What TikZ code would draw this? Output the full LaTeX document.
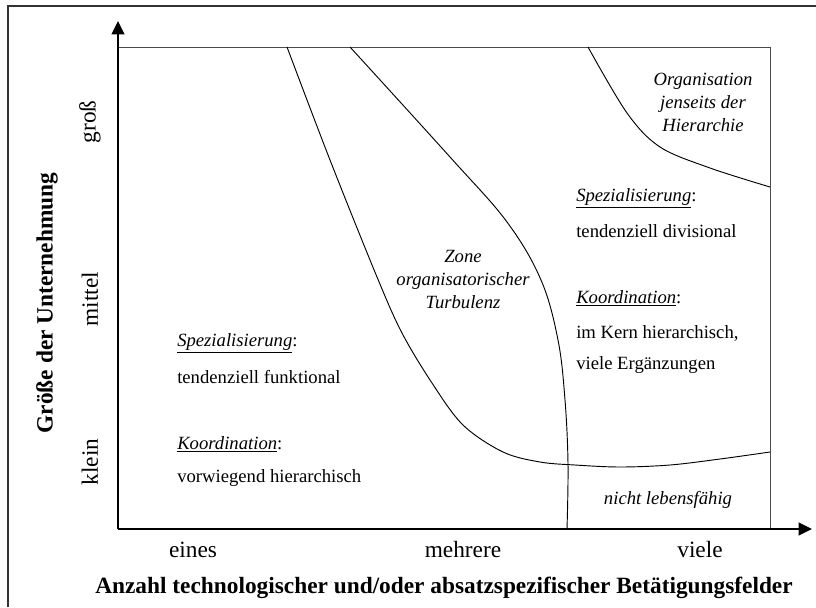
\documentclass[tikz,border=0pt]{standalone}
\usepackage{fontspec}
\setmainfont{Liberation Serif}
\usetikzlibrary{arrows.meta}
\begin{document}
\begin{tikzpicture}[x=0.75pt,y=-0.75pt,
  body/.style={inner sep=0pt,font=\fontsize{14}{17.25}\selectfont},
  zone/.style={body,align=center,font=\fontsize{14}{17.25}\selectfont\itshape},
  tick/.style={inner sep=0pt,font=\fontsize{17.5}{21}\selectfont},
  axtitle/.style={inner sep=0pt,font=\fontsize{17.5}{21}\selectfont\bfseries},
  axis/.style={line width=1.6pt,-{Triangle[length=10pt,width=9.5pt]}},
  frame/.style={line width=0.6pt,black!70},
  border/.style={line width=1pt,black!80},
  curve/.style={line width=0.7pt,black}]
\useasboundingbox (0,0) rectangle (816,607);

% outer frame
\draw[border] (8,607) -- (8,6) -- (816,6);

% corners of the plot area
\coordinate (O) at (118,529);
\coordinate (TL) at (118,47);
\coordinate (TR) at (770,47);
\coordinate (BR) at (770,529);
\coordinate (YT) at (118,21);
\coordinate (XT) at (812,529);

% plot area outline
\draw[frame] (TL) -- (TR) -- (BR);

% region boundaries
\draw[curve] plot[smooth,tension=0.55] coordinates {(287,47) (330,160) (377,277) (402,333) (432,383) (463,425) (503,452) (540,462) (575,465) (620,467) (670,465) (720,459) (770,452)};
\draw[curve] plot[smooth,tension=0.6] coordinates {(350,47) (450,157) (507,222) (541,280) (558,340) (565,400) (568,464) (567,529)};
\draw[curve] plot[smooth,tension=0.55] coordinates {(588,47) (627,113) (660,147) (710,168) (770,187)};

% axes
\draw[axis] (O) -- (YT);
\draw[axis] (O) -- (XT);

% zone labels
\node[zone] (beyond) at (703,102) {Organisation\\jenseits der\\Hierarchie};
\node[zone] (turb) at (463,279) {Zone\\organisatorischer\\Turbulenz};
\node[zone] (nonviable) at (668,500) {nicht lebensfähig};

% left column
\node[body,anchor=west] (spL) at (177,343) {\underline{\textit{Spezialisierung}}:};
\node[body,anchor=west] (spLt) at (177,377) {tendenziell funktional};
\node[body,anchor=west] (koL) at (177,444) {\underline{\textit{Koordination}}:};
\node[body,anchor=west] (koLt) at (177,478) {vorwiegend hierarchisch};

% right column
\node[body,anchor=west] (spR) at (576,198) {\underline{\textit{Spezialisierung}}:};
\node[body,anchor=west] (spRt) at (576,231) {tendenziell divisional};
\node[body,anchor=west] (koR) at (576,298) {\underline{\textit{Koordination}}:};
\node[body,anchor=west] (koRt1) at (576,333) {im Kern hierarchisch,};
\node[body,anchor=west] (koRt2) at (576,365) {viele Ergänzungen};

% x axis labels
\node[tick] (x1) at (193,550) {eines};
\node[tick] (x2) at (463,550) {mehrere};
\node[tick] (x3) at (700,550) {viele};
\node[axtitle] (xt) at (444,588) {Anzahl technologischer und/oder absatzspezifischer Betätigungsfelder};

% y axis labels
\node[tick,rotate=90] (y1) at (90,462) {klein};
\node[tick,rotate=90] (y2) at (90,299) {mittel};
\node[tick,rotate=90] (y3) at (90,122) {groß};
\node[axtitle,rotate=90] (yt) at (47,303) {Größe der Unternehmung};
\end{tikzpicture}
\end{document}
